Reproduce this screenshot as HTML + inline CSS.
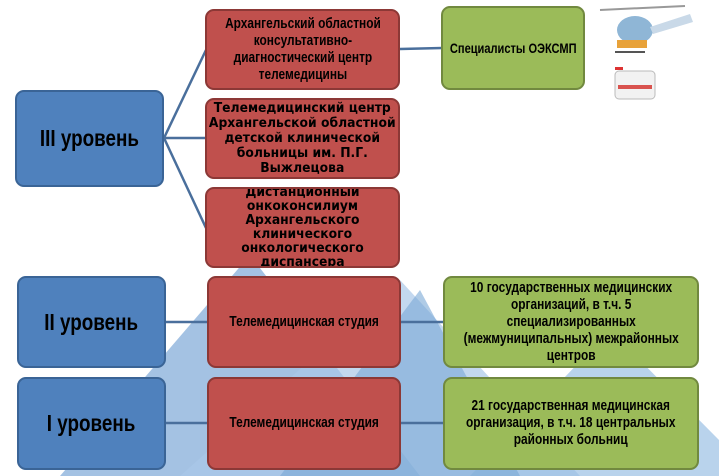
<!DOCTYPE html>
<html><head><meta charset="utf-8"><style>
body{margin:0;width:719px;height:476px;overflow:hidden;background:#fff;position:relative;font-family:"Liberation Sans",sans-serif}
.b{position:absolute;box-sizing:border-box;border-radius:9px;display:flex;align-items:center;justify-content:center;text-align:center;font-weight:bold;color:#000}
.b>span{display:inline-block;flex:none;transform:scaleX(0.82);white-space:nowrap}
.bl{background:#4f81bd;border:2px solid #3a6496;font-size:23px}
.rd{background:#c0504d;border:2px solid #8c3836;font-size:14.5px;line-height:17px}
.gr{background:#9bbb59;border:2px solid #71893f;font-size:14.5px;line-height:17px}
.w{font-family:"DejaVu Sans",sans-serif;font-size:13px;line-height:15px}
.w>span{transform:scaleX(0.95)}
svg{position:absolute;left:0;top:0}
</style></head><body>
<svg width="719" height="476">
<polygon points="60,476 250,255 420,476" fill="#8db3dc" opacity="0.8"/>
<polygon points="180,476 400,280 580,476" fill="#a9c8e8" opacity="0.7"/>
<polygon points="470,476 610,330 719,440 719,476" fill="#9bc0e4" opacity="0.7"/>
<polygon points="280,476 420,290 520,476" fill="#7aa8d6" opacity="0.6"/>
<g stroke="#4a6f9c" stroke-width="2.5" fill="none">
<line x1="164" y1="138" x2="206" y2="50"/>
<line x1="164" y1="138" x2="206" y2="138"/>
<line x1="164" y1="138" x2="206" y2="228"/>
<line x1="400" y1="49" x2="442" y2="48"/>
<line x1="166" y1="322" x2="208" y2="322"/>
<line x1="401" y1="322" x2="444" y2="322"/>
<line x1="166" y1="423" x2="208" y2="423"/>
<line x1="401" y1="423" x2="444" y2="423"/>
</g>
<g transform="translate(605,2)">
<ellipse cx="30" cy="28" rx="18" ry="14" fill="#8fb6d6"/><rect x="12" y="38" width="30" height="8" fill="#e8a23a"/>
<line x1="-5" y1="8" x2="80" y2="4" stroke="#999" stroke-width="2"/><line x1="10" y1="50" x2="40" y2="50" stroke="#555" stroke-width="2"/>
<path d="M45 25 L85 12 L88 20 L48 32Z" fill="#c9d9e8"/>
</g>
<g transform="translate(615,65)"><rect x="0" y="6" width="40" height="28" rx="4" fill="#f2f2f2" stroke="#bbb"/><rect x="3" y="20" width="34" height="4" fill="#d9534f"/><rect x="0" y="2" width="8" height="3" fill="#d33"/></g>
</svg>
<div class="b bl" style="left:15px;top:90px;width:149px;height:97px"><span>III уровень</span></div>
<div class="b bl" style="left:17px;top:276px;width:149px;height:92px"><span>II уровень</span></div>
<div class="b bl" style="left:17px;top:377px;width:149px;height:93px"><span>I уровень</span></div>
<div class="b rd" style="left:205px;top:9px;width:195px;height:81px"><span>Архангельский областной<br>консультативно-<br>диагностический центр<br>телемедицины</span></div>
<div class="b rd w" style="left:205px;top:98px;width:195px;height:81px"><span>Телемедицинский центр<br>Архангельской областной<br>детской клинической<br>больницы им. П.Г.<br>Выжлецова</span></div>
<div class="b rd w" style="left:205px;top:187px;width:195px;height:81px;overflow:hidden;line-height:14px"><span>Дистанционный<br>онкоконсилиум<br>Архангельского<br>клинического<br>онкологического<br>диспансера</span></div>
<div class="b rd" style="left:207px;top:276px;width:194px;height:92px"><span>Телемедицинская студия</span></div>
<div class="b rd" style="left:207px;top:377px;width:194px;height:93px"><span>Телемедицинская студия</span></div>
<div class="b gr" style="left:441px;top:6px;width:144px;height:84px"><span style="font-size:13.5px">Специалисты ОЭКСМП</span></div>
<div class="b gr" style="left:443px;top:276px;width:256px;height:92px"><span>10 государственных медицинских<br>организаций, в т.ч. 5<br>специализированных<br>(межмуниципальных) межрайонных<br>центров</span></div>
<div class="b gr" style="left:443px;top:377px;width:256px;height:93px"><span>21 государственная медицинская<br>организация, в т.ч. 18 центральных<br>районных больниц</span></div>
</body></html>
